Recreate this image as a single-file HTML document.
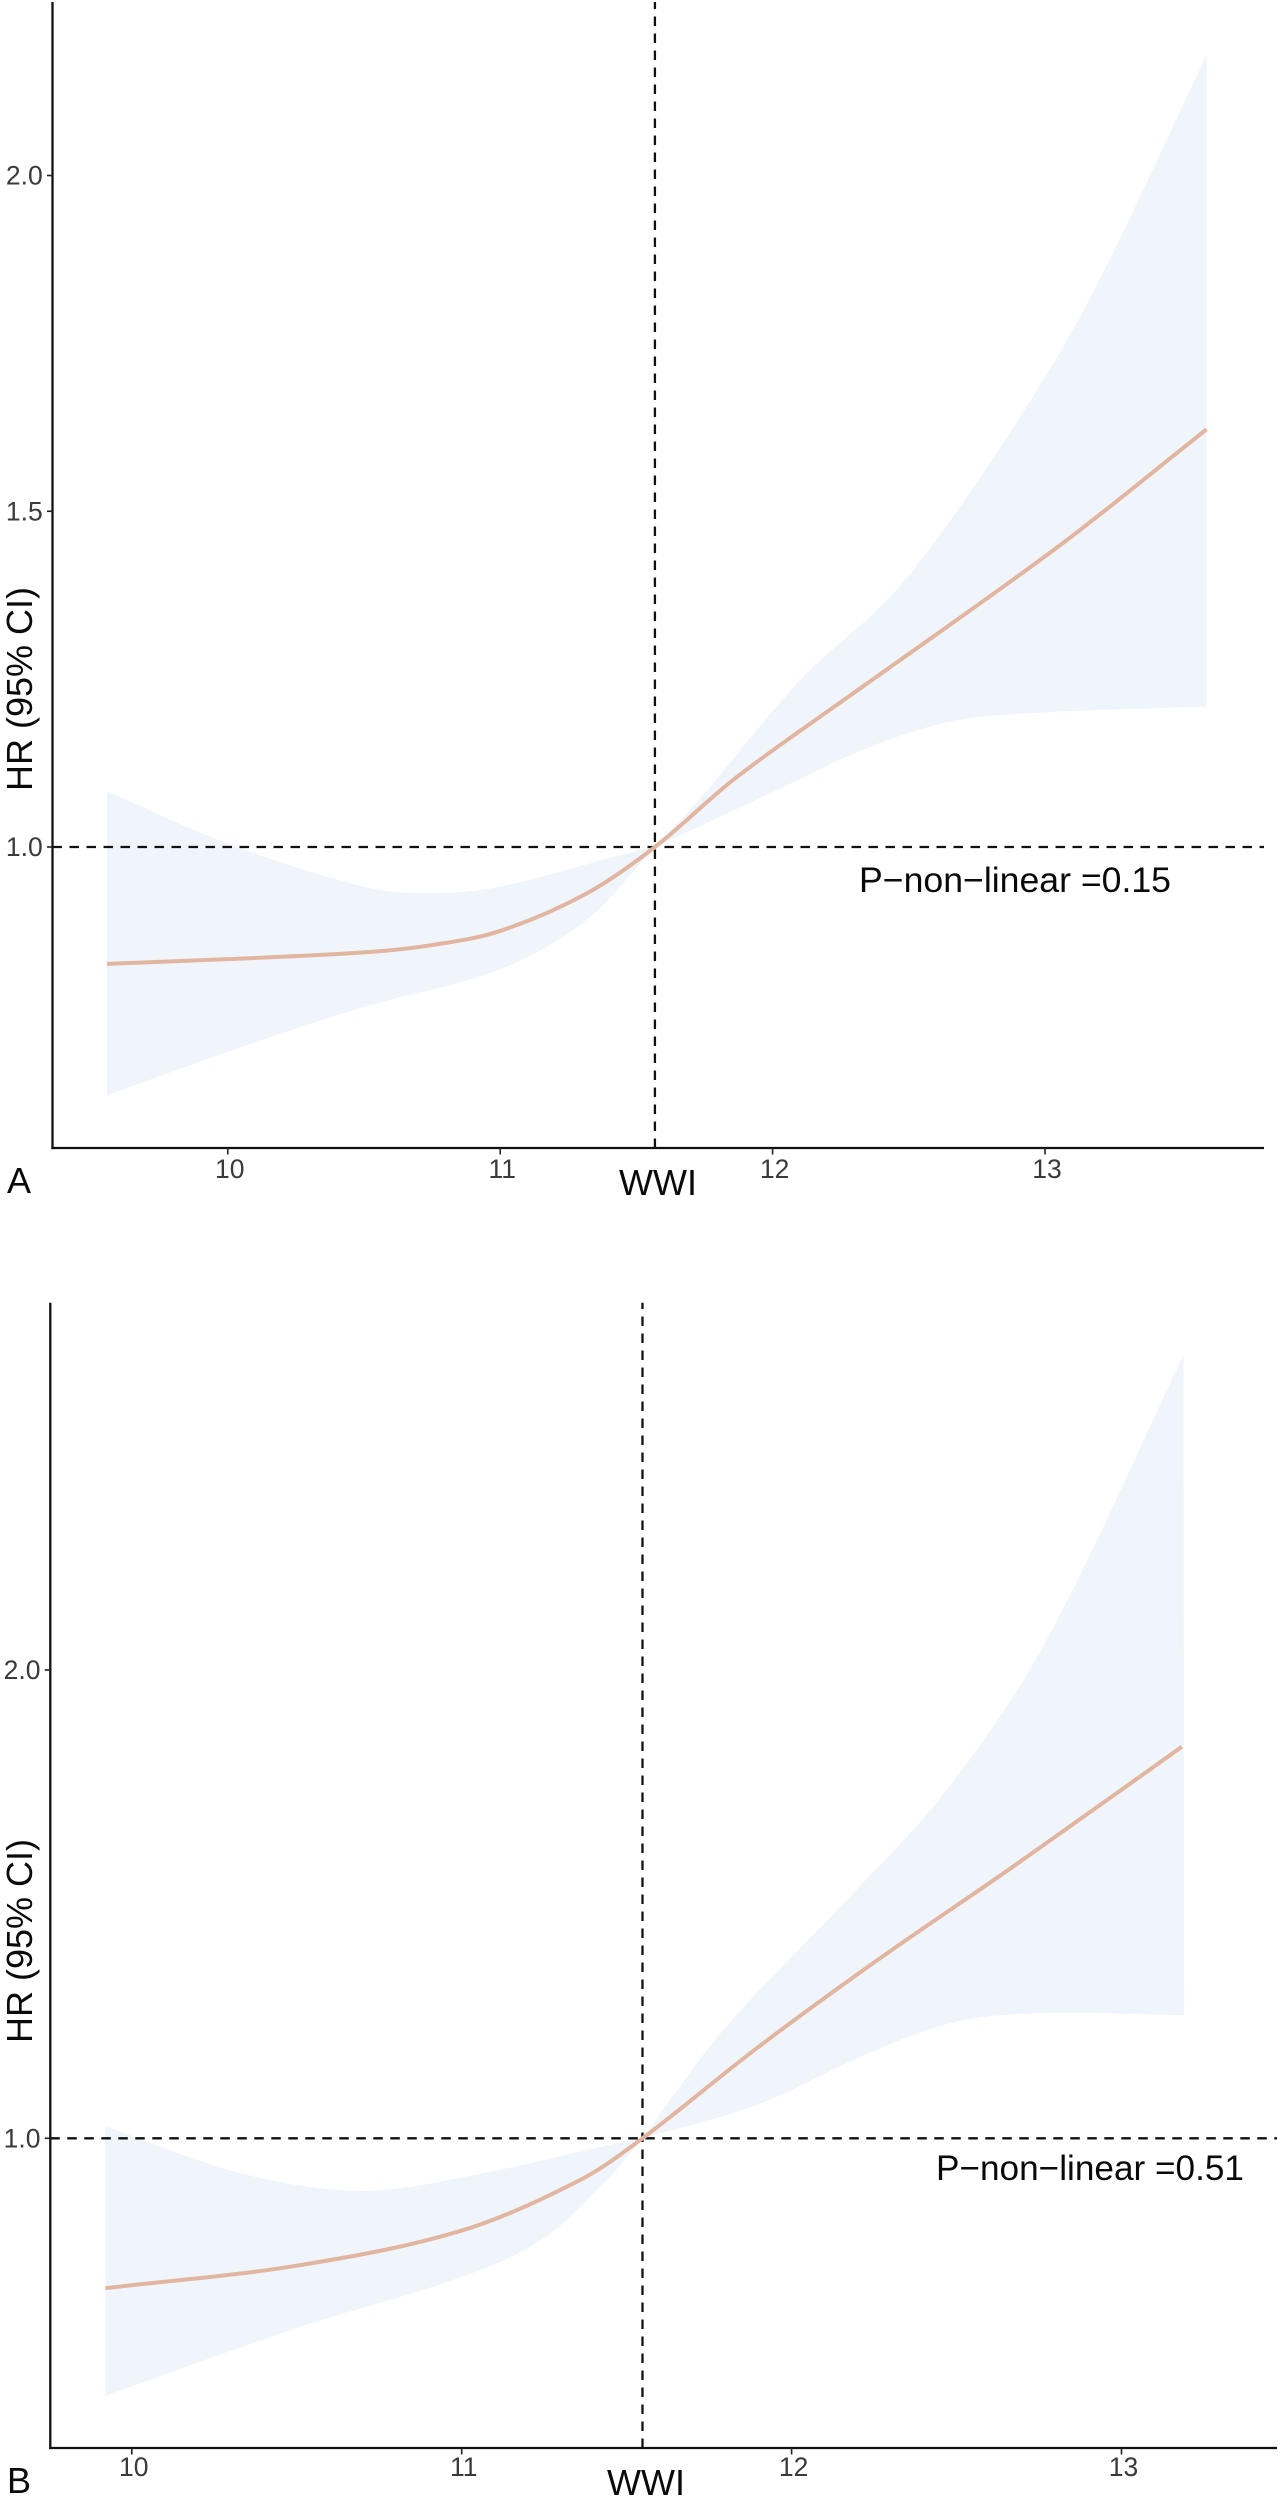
<!DOCTYPE html>
<html lang="en">
<head>
<meta charset="utf-8">
<title>HR (95% CI) by WWI, panels A and B</title>
<style>
  html, body { margin: 0; padding: 0; background: #fff; }
  svg { display: block; font-family: "Liberation Sans", Arial, sans-serif; }
  .tick-text { font-size: 26.5px; fill: #3a3a3a; }
  .axis-title { font-size: 36px; fill: #0a0a0a; }
  .annotation { font-size: 35px; fill: #0a0a0a; }
  .panel-tag { font-size: 36px; fill: #0a0a0a; }
</style>
</head>
<body>
<svg id="figure" xmlns="http://www.w3.org/2000/svg" width="1278" height="2500" viewBox="0 0 1278 2500">
  <rect width="1278" height="2500" fill="#ffffff"/>
  <g id="panel-a">
    <text class="axis-title" transform="translate(32 689) rotate(-90)" text-anchor="middle">HR (95% CI)</text>
    <text class="axis-title" x="619" y="1195">WWI</text>
    <text class="panel-tag" x="7" y="1193">A</text>
    <text class="annotation" x="859" y="892" textLength="312" lengthAdjust="spacingAndGlyphs">P−non−linear =0.15</text>
  </g>
  <g id="panel-b">
    <text class="axis-title" transform="translate(32 1941) rotate(-90)" text-anchor="middle">HR (95% CI)</text>
    <text class="axis-title" x="607" y="2495">WWI</text>
    <text class="panel-tag" x="7" y="2493">B</text>
    <text class="annotation" x="936" y="2180" textLength="308" lengthAdjust="spacingAndGlyphs">P−non−linear =0.51</text>
  </g>
</svg>
<script>
// Panel A data
var refWwiA = 11.568;
var wwiLineA = [9.557, 10, 10.5, 10.75, 11, 11.318, 11.568, 11.855, 12.174, 12.589, 13.08, 13.593];
var hrLineA  = [0.826, 0.833, 0.843, 0.854, 0.875, 0.931, 1.0, 1.0998, 1.194, 1.313, 1.457, 1.622];
var wwiUpperA = [9.557, 10, 10.5, 10.75, 11, 11.487, 11.568, 11.734, 12.10, 12.468, 12.835, 13.162, 13.593];
var hrUpperA  = [1.083, 1.005, 0.941, 0.931, 0.941, 0.993, 1.0, 1.0725, 1.248, 1.389, 1.595, 1.815, 2.179];
var wwiLowerA = [9.557, 10, 10.5, 11, 11.322, 11.568, 11.978, 12.347, 12.651, 12.956, 13.593];
var hrLowerA  = [0.630, 0.695, 0.762, 0.818, 0.893, 1.0, 1.0774, 1.1474, 1.1866, 1.1996, 1.209];
var xTicksA = [10, 11, 12, 13];
var yTicksA = [1.0, 1.5, 2.0];
var yTickLabelsA = ["1.0", "1.5", "2.0"];

// Panel B data
var refWwiB = 11.548;
var wwiLineB = [9.92, 10.5, 11, 11.359, 11.548, 11.894, 12.268, 12.671, 13.183];
var hrLineB  = [0.680, 0.728, 0.803, 0.911, 1.0, 1.1922, 1.3844, 1.58, 1.836];
var wwiUpperB = [9.92, 10.25, 10.5, 10.75, 11.086, 11.489, 11.548, 11.793, 12.167, 12.47, 12.773, 13.188];
var hrUpperB  = [1.026, 0.942, 0.900, 0.889, 0.9287, 0.9927, 1.0, 1.2313, 1.5089, 1.7438, 2.064, 2.672];
var wwiLowerB = [9.92, 10.5, 11, 11.25, 11.44, 11.548, 11.894, 12.25, 12.498, 12.749, 13.19];
var hrLowerB  = [0.450, 0.595, 0.704, 0.787, 0.911, 1.0, 1.0711, 1.187, 1.249, 1.267, 1.263];
var xTicksB = [10, 11, 12, 13];
var yTicksB = [1.0, 2.0];
var yTickLabelsB = ["1.0", "2.0"];

var NS = 'http://www.w3.org/2000/svg';

function makeEl(parent, tag, attrs) {
  var el = document.createElementNS(NS, tag);
  for (var k in attrs) el.setAttribute(k, attrs[k]);
  parent.appendChild(el);
  return el;
}

// Smooth cubic Hermite through the points, returned as path segments
function smoothSegments(xs, ys) {
  var n = xs.length, m = [], i, d = '';
  for (i = 0; i < n; i++) {
    if (i === 0) m.push((ys[1] - ys[0]) / (xs[1] - xs[0]));
    else if (i === n - 1) m.push((ys[n - 1] - ys[n - 2]) / (xs[n - 1] - xs[n - 2]));
    else m.push((ys[i + 1] - ys[i - 1]) / (xs[i + 1] - xs[i - 1]));
  }
  for (i = 0; i < n - 1; i++) {
    var h = xs[i + 1] - xs[i];
    d += 'C' + (xs[i] + h / 3).toFixed(2) + ' ' + (ys[i] + m[i] * h / 3).toFixed(2) + ' ' +
         (xs[i + 1] - h / 3).toFixed(2) + ' ' + (ys[i + 1] - m[i + 1] * h / 3).toFixed(2) + ' ' +
         xs[i + 1].toFixed(2) + ' ' + ys[i + 1].toFixed(2);
  }
  return d;
}

// The confidence band pinches at the reference value, so each side is smoothed on its own
function pinchedSegments(xs, ys, pinchIndex) {
  return smoothSegments(xs.slice(0, pinchIndex + 1), ys.slice(0, pinchIndex + 1)) +
         smoothSegments(xs.slice(pinchIndex), ys.slice(pinchIndex));
}

function drawPanel(g, key, series, xTicks, yTicks, yLabels, refWwi, cfg) {
  function sx(v) { return cfg.x10 + cfg.xUnit * (v - 10); }
  function sy(v) { return cfg.y1 - cfg.yUnit * (v - 1); }

  var upX = series.wwiUpper.map(sx), upY = series.hrUpper.map(sy);
  var loX = series.wwiLower.map(sx).reverse(), loY = series.hrLower.map(sy).reverse();
  var upPinch = series.wwiUpper.indexOf(refWwi);
  var loPinch = series.wwiLower.length - 1 - series.wwiLower.indexOf(refWwi);

  var band = makeEl(g, 'path', {
    d: 'M' + upX[0].toFixed(2) + ' ' + upY[0].toFixed(2) + pinchedSegments(upX, upY, upPinch) +
       'L' + loX[0].toFixed(2) + ' ' + loY[0].toFixed(2) + pinchedSegments(loX, loY, loPinch) + 'Z',
    fill: '#eff5fb', stroke: 'none'
  });
  
  

  var hRef = makeEl(g, 'line', { x1: cfg.axisX, x2: cfg.axisEnd, y1: sy(1), y2: sy(1), stroke: '#111', 'stroke-width': 2.3, 'stroke-dasharray': '9.5 7.5' });
  
  

  var vRef = makeEl(g, 'line', { x1: sx(refWwi), x2: sx(refWwi), y1: cfg.axisY, y2: cfg.axisTop, stroke: '#111', 'stroke-width': 2.3, 'stroke-dasharray': '9.5 7.5' });
  
  

  var lineX = series.wwiLine.map(sx), lineY = series.hrLine.map(sy);
  var curve = makeEl(g, 'path', {
    d: 'M' + lineX[0].toFixed(2) + ' ' + lineY[0].toFixed(2) + smoothSegments(lineX, lineY),
    fill: 'none', stroke: '#e2b5a0', 'stroke-width': 4
  });
  
  

  var yAxis = makeEl(g, 'line', { x1: cfg.axisX, x2: cfg.axisX, y1: cfg.axisTop, y2: cfg.axisY + 1.1, stroke: '#111', 'stroke-width': 2.3 });
  
  

  var xAxis = makeEl(g, 'line', { x1: cfg.axisX - 1.1, x2: cfg.axisEnd, y1: cfg.axisY, y2: cfg.axisY, stroke: '#111', 'stroke-width': 2.3 });
  
  

  xTicks.forEach(function (t) {
    var tick = makeEl(g, 'line', { x1: sx(t), x2: sx(t), y1: cfg.axisY, y2: cfg.axisY + 6.5, stroke: '#222', 'stroke-width': 1.6 });
    
    
    var label = makeEl(g, 'text', { x: sx(t) + 2, y: cfg.xLabelY, 'text-anchor': 'middle', 'class': 'tick-text' });
    
    
    label.textContent = String(t);
  });

  yTicks.forEach(function (t, i) {
    var tick = makeEl(g, 'line', { x1: cfg.axisX - 5.5, x2: cfg.axisX, y1: sy(t), y2: sy(t), stroke: '#222', 'stroke-width': 1.6 });
    
    
    var label = makeEl(g, 'text', { x: cfg.axisX - 9.8, y: sy(t) + 9, 'text-anchor': 'end', 'class': 'tick-text' });
    
    
    label.textContent = yLabels[i];
  });
}

drawPanel(document.getElementById('panel-a'), 'a',
  { wwiLine: wwiLineA, hrLine: hrLineA, wwiUpper: wwiUpperA, hrUpper: hrUpperA, wwiLower: wwiLowerA, hrLower: hrLowerA },
  xTicksA, yTicksA, yTickLabelsA, refWwiA,
  { x10: 227.8, xUnit: 272.4, y1: 847, yUnit: 671.5, axisX: 52.5, axisY: 1148, axisTop: 2, axisEnd: 1264, xLabelY: 1178 });
drawPanel(document.getElementById('panel-b'), 'b',
  { wwiLine: wwiLineB, hrLine: hrLineB, wwiUpper: wwiUpperB, hrUpper: hrUpperB, wwiLower: wwiLowerB, hrLower: hrLowerB },
  xTicksB, yTicksB, yTickLabelsB, refWwiB,
  { x10: 131.8, xUnit: 329.9, y1: 2138.3, yUnit: 468.3, axisX: 50.3, axisY: 2448, axisTop: 1302.7, axisEnd: 1277, xLabelY: 2476 });
</script>
</body>
</html>
